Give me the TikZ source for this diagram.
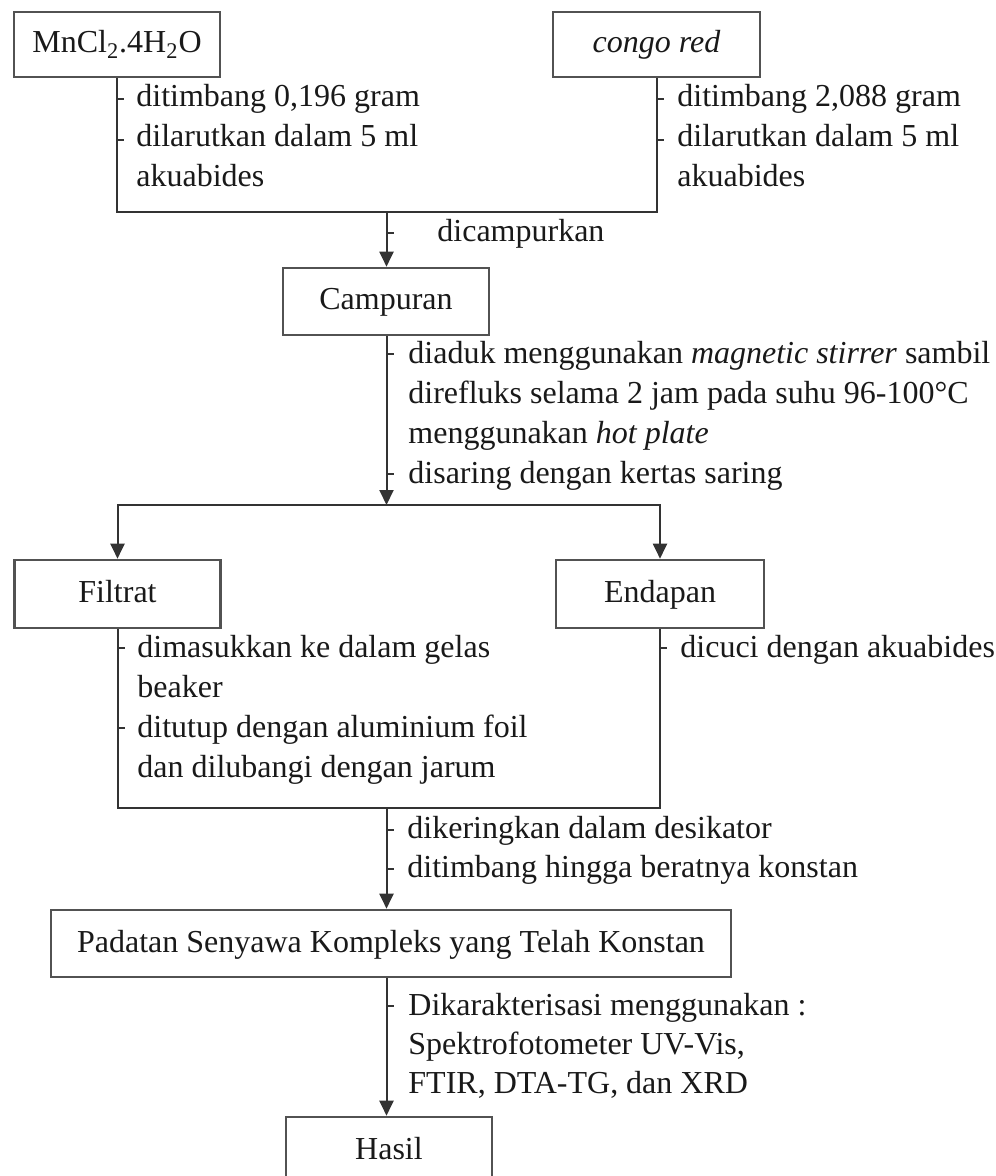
\documentclass[tikz,border=0pt]{standalone}
\usepackage{fontspec}
\setmainfont{Liberation Serif}
\usetikzlibrary{arrows.meta}
\begin{document}
\begin{tikzpicture}[x=0.5pt,y=-0.5pt,
  every node/.style={font=\fontsize{16}{20}\selectfont, text=black!90},
  box/.style={draw=black!68, line width=1.3pt, inner sep=0pt, text height=11pt, text depth=2.5pt, minimum width=103pt, minimum height=33pt},
  lbl/.style={anchor=base west, inner sep=0pt},
  conn/.style={draw=black!80, line width=1pt},
  arr/.style={conn, -{Triangle[length=7.5pt,width=7pt]}},
  tick/.style={draw=black!80, line width=1.1pt}]
\useasboundingbox (0,0) rectangle (995,1176);

% boxes
\node[box, minimum height=32.5pt] (mn) at (117,44.5) {MnCl\textsubscript{2}.4H\textsubscript{2}O};
\node[box, minimum width=103.5pt, minimum height=32.5pt] (congo) at (656.5,44.5) {\itshape congo red};
\node[box, minimum height=33.5pt] (camp) at (386,301.5) {Campuran};
\node[box, minimum height=34pt] (filt) at (117.5,594) {Filtrat};
\node[box, minimum width=104pt, minimum height=34pt] (endap) at (660,594) {Endapan};
\node[box, minimum width=340pt, minimum height=33.5pt] (pad) at (391,943.5) {Padatan Senyawa Kompleks yang Telah Konstan};
\node[box, minimum height=33.5pt] (hasil) at (389,1150.5) {Hasil};

% junctions
\coordinate (j1) at (386.5,212);
\coordinate (j2) at (386.5,505);
\coordinate (j3) at (386.5,808);

% connectors
\draw[conn] (mn.south) |- (j1) -| (congo.south);
\draw[arr] (j1) -- (j1 |- camp.north);
\draw[arr] (j1 |- camp.south) -- (j2);
\draw[arr] (j2) -| (filt.north);
\draw[arr] (j2) -| (endap.north);
\draw[conn] (filt.south) |- (j3) -| (endap.south);
\draw[arr] (j3) -- (j3 |- pad.north);
\draw[arr] (j3 |- pad.south) -- (j3 |- hasil.north);

% ticks
\draw[tick] (mn.south |- 0,99) -- ++(7,0);
\draw[tick] (mn.south |- 0,140) -- ++(7,0);
\draw[tick] (congo.south |- 0,99) -- ++(7,0);
\draw[tick] (congo.south |- 0,140) -- ++(7,0);
\draw[tick] (j1 |- 0,233) -- ++(7,0);
\draw[tick] (j1 |- 0,354) -- ++(7,0);
\draw[tick] (j1 |- 0,474) -- ++(7,0);
\draw[tick] (filt.south |- 0,648) -- ++(7,0);
\draw[tick] (filt.south |- 0,728) -- ++(7,0);
\draw[tick] (endap.south |- 0,648) -- ++(7,0);
\draw[tick] (j3 |- 0,830) -- ++(7,0);
\draw[tick] (j3 |- 0,869) -- ++(7,0);
\draw[tick] (j3 |- 0,1006) -- ++(7,0);

% labels
\node[lbl] (a1) at (136,107) {ditimbang 0,196 gram};
\node[lbl] (a2) at (136,147) {dilarutkan dalam 5 ml};
\node[lbl] (a3) at (136,187) {akuabides};
\node[lbl] (b1) at (677,107) {ditimbang 2,088 gram};
\node[lbl] (b2) at (677,147) {dilarutkan dalam 5 ml};
\node[lbl] (b3) at (677,187) {akuabides};
\node[lbl] (c1) at (437,242) {dicampurkan};
\node[lbl] (d1) at (408,363) {diaduk menggunakan \textit{magnetic stirrer} sambil};
\node[lbl] (d2) at (408,403) {direfluks selama 2 jam pada suhu 96-100°C};
\node[lbl] (d3) at (408,443) {menggunakan \textit{hot plate}};
\node[lbl] (d4) at (408,483) {disaring dengan kertas saring};
\node[lbl] (e1) at (137,657) {dimasukkan ke dalam gelas};
\node[lbl] (e2) at (137,697) {beaker};
\node[lbl] (e3) at (137,737) {ditutup dengan aluminium foil};
\node[lbl] (e4) at (137,777) {dan dilubangi dengan jarum};
\node[lbl] (f1) at (680,657) {dicuci dengan akuabides};
\node[lbl] (g1) at (407,838) {dikeringkan dalam desikator};
\node[lbl] (g2) at (407,877) {ditimbang hingga beratnya konstan};
\node[lbl] (h1) at (408,1015) {Dikarakterisasi menggunakan :};
\node[lbl] (h2) at (408,1054) {Spektrofotometer UV-Vis,};
\node[lbl] (h3) at (408,1093) {FTIR, DTA-TG, dan XRD};
\end{tikzpicture}
\end{document}
